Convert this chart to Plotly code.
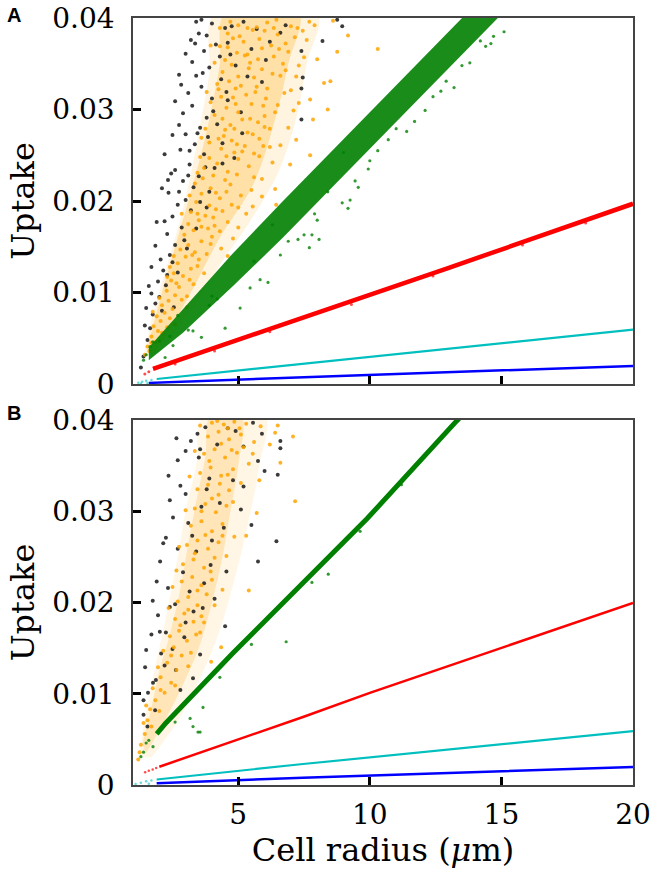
import plotly.graph_objects as go

# ---------------- axis ticks ----------------
X_TICKS = [5, 10, 15, 20]
X_TICK_TEXT = ["5", "10", "15", "20"]
Y_TICKS_MILLI = [0, 10, 20, 30, 40]
Y_TICK_TEXT = ["0", "0.01", "0.02", "0.03", "0.04"]

# All uptake values below are in units of 1e-3

# ---------------- Panel A ----------------
blue_a_x = [1.6, 7.5, 20.0]
blue_a_y = [0.12, 0.75, 1.98]
cyan_a_x = [1.9, 7.46, 20.0]
cyan_a_y = [0.55, 2.2, 5.95]
red_a_x = [1.76, 7.46, 13.0, 20.0]
red_a_y = [1.65, 7.2, 12.7, 19.7]
red_a_dots_x = [1.45, 1.6, 2.6, 4.1, 6.2, 9.3, 12.4, 15.8, 18.2]
red_a_dots_y = [1.1, 1.35, 2.2, 3.6, 5.7, 8.7, 11.8, 15.2, 17.6]
start_dots_a_x = [1.2, 1.35, 1.5, 1.7, 1.3, 1.55]
start_dots_a_y = [0.15, 0.25, 0.35, 0.45, 0.05, 0.1]

green_a_band_x = [1.6, 2.9, 4.8, 6.7, 8.6, 11.2, 15.0]
green_a_upper = [4.0, 8.2, 14.3, 20.0, 25.6, 33.2, 44.4]
green_a_lower = [2.6, 5.6, 10.7, 16.0, 21.6, 29.2, 40.4]
green_a_pts_x = [9.94, 9.44, 9.56, 9.25, 8.95, 9.17, 8.0, 8.07, 7.7, 7.8, 7.5, 11.7,
                 11.4, 10.3, 10.7, 12.7, 12.9, 13.5, 13.8, 14.7, 15.1, 14.2, 5.83,
                 6.13, 5.07, 4.5, 3.28, 2.52, 2.22, 7.27, 6.6, 5.45, 3.6, 1.4, 1.5,
                 1.65, 1.75, 2.0, 2.4, 3.9, 4.2, 6.9, 7.9, 10.0, 12.1, 13.2, 14.4,
                 3.1, 5.6, 8.4, 11.0, 12.4, 2.7, 4.0, 6.3, 9.0, 13.9, 14.6]
green_a_pts_y = [23.5, 22.2, 21.5, 20.1, 19.8, 19.2, 17.9, 15.8, 14.9, 16.3, 16.3,
                 28.7, 27.6, 25.5, 26.7, 32.0, 33.1, 34.8, 35.1, 38.0, 38.5, 37.5,
                 11.4, 11.1, 8.3, 6.1, 5.8, 4.2, 2.9, 15.8, 14.1, 10.5, 5.1, 2.6,
                 3.2, 4.1, 4.6, 4.7, 5.2, 8.6, 9.3, 15.6, 18.6, 24.4, 29.9, 32.4,
                 36.9, 5.9, 13.4, 21.0, 27.9, 31.4, 7.5, 9.6, 17.4, 25.3, 41.0, 37.2]

# extent of the whole orange/black cloud, and of its dense core
cloud_a_fill_x = [1.4, 1.8, 2.3, 2.8, 3.2, 3.6, 3.9, 4.1, 8.0, 7.6, 7.2, 6.5, 5.5,
                  4.3, 3.2, 2.0]
cloud_a_fill_y = [3.0, 8.0, 13.0, 18.0, 23.0, 29.0, 34.0, 40.5, 40.5, 35.0, 29.0,
                  23.0, 18.0, 13.0, 8.0, 3.5]
orange_a_fill_x = [1.6, 2.1, 2.7, 3.3, 3.75, 4.05, 4.3, 4.5, 7.3, 6.9, 6.5, 5.6,
                   4.3, 3.2, 2.2, 1.7]
orange_a_fill_y = [4.5, 10.0, 16.0, 22.0, 27.0, 31.0, 35.0, 40.5, 40.5, 35.0, 30.0,
                   22.0, 16.0, 10.0, 5.0, 3.0]

orange_a_x = [1.45, 1.55, 1.62, 1.70, 1.85, 1.78, 1.95, 2.05, 1.90, 2.20, 2.10, 2.35,
              2.50, 2.28, 2.60, 2.75, 2.45, 3.05, 2.55, 2.90, 3.20, 2.70, 3.00, 3.45,
              2.40, 2.80, 3.10, 3.35, 3.60, 2.95, 3.80, 3.30, 4.00, 3.10, 3.50, 3.75,
              3.20, 4.10, 4.40, 3.90, 3.40, 4.60, 3.60, 3.95, 4.30, 4.70, 3.35, 5.10,
              4.50, 5.50, 4.05, 3.70, 4.20, 4.60, 5.00, 3.55, 5.40, 4.85, 5.80, 4.35,
              3.90, 4.45, 4.95, 5.35, 3.75, 5.80, 6.20, 4.70, 5.15, 4.10, 4.55, 5.00,
              5.50, 6.00, 3.95, 6.50, 4.80, 5.30, 5.75, 4.25, 4.65, 5.10, 5.60, 6.10,
              6.60, 4.40, 5.90, 7.00, 4.50, 4.95, 5.45, 5.90, 6.35, 6.90, 4.30, 5.20,
              7.30, 4.60, 5.00, 5.55, 6.10, 6.50, 7.00, 7.45, 4.80, 5.80, 6.80, 7.70,
              7.90, 8.60, 9.17, 10.30, 8.76, 8.00, 8.50, 8.26, 7.73, 8.40, 7.84, 7.73,
              6.97, 7.20, 7.30, 6.44, 6.40, 5.30, 4.80, 4.60, 4.75, 5.35, 6.25, 5.65,
              4.40, 5.25, 4.15, 3.85, 3.25, 2.65, 6.70, 6.05, 5.55, 4.95, 4.25, 3.65,
              5.05, 6.45, 4.90, 3.45,
              5.90, 6.30, 6.60, 6.90, 7.10, 6.75, 7.20, 7.50, 7.60, 7.25, 6.20, 5.60,
              6.00, 6.40, 6.80, 6.55, 7.15, 5.75, 6.30, 5.95, 4.55, 5.15, 4.75, 5.45,
              4.85, 5.70, 5.00, 5.40, 6.00, 5.35, 4.70, 5.70, 6.35, 5.25, 4.60, 4.90,
              4.35, 4.50, 3.90, 4.75, 4.15, 3.60, 4.30, 3.95, 3.50, 3.15, 2.85, 2.40,
              2.10, 1.70, 2.30, 3.30, 3.70, 4.35, 5.00, 5.55, 5.90, 5.00, 4.55, 4.05,
              3.05, 2.60, 5.95, 5.60, 4.10, 4.30, 3.95, 4.20, 3.80, 3.60, 3.45, 3.15,
              2.85, 2.55, 2.30, 2.00, 1.75]
orange_a_y = [3.2, 4.1, 3.6, 5.2, 4.6, 6.3, 5.8, 6.9, 7.4, 7.8, 8.6, 9.1,
              8.2, 10.2, 9.7, 10.6, 11.3, 9.6, 12.1, 11.8, 12.6, 13.2, 13.9, 12.9,
              12.8, 14.7, 15.2, 14.4, 15.6, 16.3, 14.2, 16.8, 16.1, 17.5, 17.9, 18.4,
              18.8, 17.3, 18.9, 19.5, 19.9, 17.7, 20.8, 21.4, 20.3, 21.8, 21.9, 20.6,
              22.3, 21.2, 22.8, 23.6, 24.1, 23.2, 24.6, 24.8, 23.8, 25.3, 24.9, 25.7,
              26.4, 27.1, 26.2, 27.5, 27.9, 26.8, 27.9, 28.3, 28.9, 29.4, 30.2, 29.7,
              30.6, 29.3, 30.8, 30.5, 31.3, 31.6, 28.6, 32.2, 33.1, 32.6, 33.5, 32.3,
              33.7, 34.1, 34.4, 32.1, 35.4, 36.2, 35.1, 36.7, 35.8, 36.3, 36.9, 37.4,
              34.8, 38.3, 39.2, 38.7, 39.5, 38.2, 39.1, 38.6, 37.8, 37.7, 37.2, 39.6,
              39.2, 39.7, 38.1, 36.6, 36.3, 35.5, 33.1, 32.9, 31.1, 30.0, 28.9, 25.0,
              24.0, 26.7, 30.7, 19.6, 21.3, 18.6, 15.9, 14.0, 34.9, 36.0, 37.0, 31.9,
              29.0, 26.0, 20.9, 17.0, 14.1, 11.0, 35.0, 31.2, 27.3, 22.9, 26.8, 22.5,
              38.0, 39.8, 30.6, 18.6,
              22.4, 24.2, 26.1, 28.0, 29.9, 31.8, 33.6, 35.7, 37.6, 38.9, 25.9, 22.6,
              28.1, 29.7, 34.3, 36.6, 37.9, 35.5, 33.9, 30.4, 24.9, 25.4, 26.6, 29.0,
              27.9, 32.5, 33.6, 34.5, 38.6, 38.9, 39.6, 39.0, 38.9, 35.9, 36.8, 32.3,
              31.4, 27.8, 24.7, 19.6, 19.1, 17.2, 16.7, 15.3, 13.6, 11.4, 9.2, 7.2,
              5.6, 4.5, 6.2, 10.9, 12.1, 14.8, 17.1, 19.4, 20.5, 19.3, 21.0, 18.2,
              8.4, 6.5, 26.0, 25.2, 35.1, 38.9, 37.0, 32.8, 31.9, 26.9, 23.1, 20.6,
              18.6, 14.0, 11.7, 9.4, 7.9]

black_a_x = [1.30, 1.40, 1.55, 1.65, 1.75, 1.85, 2.00, 1.95, 2.15, 2.25, 2.40, 2.05,
             2.60, 2.30, 2.85, 2.50, 2.70, 3.00, 2.35, 2.90, 3.30, 2.60, 3.15, 3.50,
             2.80, 3.35, 3.70, 3.00, 3.55, 2.90, 3.25, 3.80, 4.20, 3.10, 3.60, 4.00,
             3.40, 3.90, 4.35, 3.25, 3.70, 4.15, 3.50, 4.00, 4.50, 3.20, 4.70, 4.60,
             4.90, 5.20, 5.50, 4.40, 4.10, 3.80, 3.40, 3.05, 2.70, 2.55, 5.10, 5.70,
             6.20, 4.85, 7.40, 7.45, 7.40, 7.40, 8.20, 8.76, 8.95, 6.80, 3.90, 2.20,
             2.45, 2.83, 3.36, 2.33, 1.70, 3.60, 4.30, 3.85, 2.75, 5.90,
             3.40, 3.00, 2.75, 2.60, 2.50, 2.20, 2.10, 1.90, 1.85, 1.70, 1.60, 1.50,
             1.45, 3.80, 4.60, 3.65, 4.05, 3.45, 3.15, 3.75, 3.10, 2.75, 3.20, 2.95,
             2.50, 2.30, 2.10, 4.55, 5.35, 4.40, 3.55, 4.75, 6.05, 6.60, 5.15]
black_a_y = [1.8, 3.0, 4.8, 6.1, 7.6, 8.8, 9.5, 11.2, 12.4, 10.8, 14.1, 13.6,
             15.2, 16.4, 17.1, 18.3, 19.6, 20.1, 20.9, 22.2, 21.5, 23.4, 24.0, 22.7,
             25.6, 26.2, 25.1, 27.3, 28.0, 29.6, 30.4, 29.1, 28.4, 31.8, 32.5, 31.2,
             33.7, 34.6, 33.3, 35.2, 36.4, 37.1, 38.3, 39.4, 38.9, 37.6, 36.0, 31.0,
             34.8, 39.6, 36.6, 26.3, 23.6, 19.3, 17.0, 14.8, 12.2, 8.4, 29.7, 38.8,
             37.4, 24.7, 36.4, 33.5, 32.3, 28.9, 37.5, 39.8, 39.1, 39.2, 21.0, 17.8,
             23.0, 32.7, 37.2, 22.3, 9.9, 39.8, 35.8, 27.0, 28.3, 33.0,
             39.6, 36.1, 33.8, 30.9, 27.2, 25.1, 21.4, 17.7, 15.1, 12.8, 10.7, 8.3,
             6.4, 38.1, 37.3, 34.0, 29.8, 27.4, 25.5, 23.7, 22.8, 21.0, 19.0, 15.7,
             13.3, 11.9, 8.0, 31.9, 33.6, 24.1, 19.9, 39.1, 35.4, 38.4, 27.4]

# ---------------- Panel B ----------------
blue_b_x = [1.9, 7.46, 20.0]
blue_b_y = [0.2, 0.8, 1.97]
cyan_b_x = [1.9, 7.46, 20.0]
cyan_b_y = [0.6, 2.3, 5.9]
red_b_x = [2.0, 7.46, 10.0, 20.0]
red_b_y = [2.0, 7.45, 10.1, 19.95]
red_b_dots_x = [1.46, 1.6, 1.75, 1.88]
red_b_dots_y = [1.4, 1.55, 1.7, 1.85]
start_dots_b_x = [1.1, 1.3, 1.5, 1.7, 1.6]
start_dots_b_y = [0.1, 0.25, 0.4, 0.5, 0.15]
green_b_x = [1.9, 2.25, 4.8, 6.82, 7.35, 9.9, 13.3, 13.6]
green_b_y = [5.6, 6.8, 14.46, 20.3, 21.8, 29.2, 39.9, 40.8]
green_b_pts_x = [8.42, 9.63, 7.8, 6.82, 3.66, 3.28, 3.55, 3.17, 1.76, 1.5, 1.3,
                 3.47, 1.4, 1.6, 2.6, 4.3, 5.5, 11.2]
green_b_pts_y = [23.1, 27.8, 22.2, 15.7, 8.5, 6.4, 5.8, 7.3, 4.2, 4.6, 3.1,
                 5.8, 3.6, 4.9, 6.9, 11.8, 15.4, 32.9]

cloud_b_fill_x = [1.2, 1.5, 1.85, 2.3, 2.7, 3.0, 3.4, 3.7, 6.0, 5.8, 5.4, 4.9,
                  4.3, 3.6, 2.7, 1.7]
cloud_b_fill_y = [3.0, 8.0, 13.0, 19.0, 25.0, 30.0, 35.0, 40.5, 40.5, 35.0, 29.0,
                  23.0, 17.0, 12.0, 7.0, 3.0]
orange_b_fill_x = [1.35, 1.7, 2.0, 2.4, 2.8, 3.1, 3.4, 3.75, 3.95, 5.1, 5.0, 4.7,
                   4.4, 4.0, 3.5, 2.9, 2.2, 1.5]
orange_b_fill_y = [4.5, 8.5, 12.5, 16.5, 21.5, 26.5, 31.0, 36.0, 40.5, 40.5, 35.0,
                   30.0, 25.0, 20.0, 15.0, 11.0, 7.0, 3.5]

orange_b_x = [1.25, 1.30, 1.45, 1.55, 1.70, 1.50, 1.85, 2.00, 1.75, 2.20, 2.05, 2.45,
              1.95, 2.30, 2.65, 2.15, 2.55, 2.85, 3.10, 2.40, 2.75, 3.05, 3.40, 2.60,
              2.95, 3.30, 3.60, 2.70, 3.10, 3.45, 3.80, 2.85, 3.25, 3.60, 4.00, 4.40,
              2.90, 3.30, 3.70, 4.10, 3.05, 3.45, 3.85, 4.25, 3.20, 3.60, 4.00, 4.40,
              4.85, 3.35, 3.75, 4.15, 4.55, 3.45, 3.85, 4.25, 4.65, 3.55, 3.95, 4.35,
              4.80, 3.70, 4.10, 4.50, 4.95, 5.40, 3.85, 4.25, 4.65, 5.10, 5.60, 4.00,
              4.45, 4.85, 5.30, 5.85, 6.40, 7.08, 7.16, 6.50, 6.60, 6.20, 5.70, 5.40,
              5.80, 3.97, 4.35, 2.35, 2.50, 2.75, 3.00, 3.15, 3.35, 3.55, 1.20,
              4.20, 4.60, 5.05, 4.35, 4.75, 5.20, 3.90, 4.60, 5.10, 4.00, 4.80, 3.60,
              4.40, 3.75, 3.35, 4.55, 3.95, 3.45, 3.10, 4.10, 2.80, 3.55, 2.45, 3.20,
              2.05, 2.60, 1.65, 1.40, 3.70, 2.65, 5.30, 5.55, 4.30]
orange_b_y = [3.6, 4.4, 5.6, 7.1, 6.4, 8.7, 9.3, 8.1, 10.6, 10.1, 11.8, 11.2,
              12.9, 13.4, 12.6, 14.7, 15.1, 14.2, 13.0, 16.3, 16.9, 15.8, 16.5, 18.2,
              18.8, 17.9, 18.5, 20.1, 20.6, 19.7, 20.9, 22.3, 22.8, 21.9, 22.5, 21.4,
              24.2, 24.7, 23.8, 24.9, 26.3, 26.8, 25.9, 26.6, 28.4, 28.9, 27.8, 28.6,
              27.2, 30.3, 30.8, 29.9, 30.6, 32.4, 32.9, 31.8, 32.3, 34.2, 34.8, 33.9,
              34.6, 36.3, 36.8, 35.9, 36.4, 35.2, 38.2, 38.7, 37.9, 38.4, 37.6, 39.7,
              39.5, 39.8, 39.6, 39.3, 38.6, 38.2, 31.1, 39.4, 35.3, 37.3, 29.8, 21.3,
              33.4, 13.5, 15.1, 19.4, 21.7, 26.1, 30.1, 33.8, 36.6, 39.4, 2.8,
              39.9, 39.1, 39.1, 37.4, 36.7, 37.0, 35.5, 34.0, 33.1, 31.4, 31.0, 30.0,
              27.3, 27.4, 25.4, 25.1, 23.4, 21.3, 19.2, 19.7, 17.5, 16.7, 14.2, 14.5,
              10.4, 10.9, 8.3, 6.8, 17.8, 23.5, 27.3, 36.3, 33.0]

black_b_x = [1.46, 1.57, 1.84, 1.76, 1.87, 1.95, 2.02, 2.25, 2.07, 2.63, 2.80, 3.28,
             4.50, 2.65, 3.20, 2.25, 2.03, 2.33, 2.80, 3.00, 2.52, 6.60, 6.60, 5.75,
             6.00, 6.50, 6.45, 5.75, 5.50, 1.55, 1.40, 2.40, 2.90, 3.40, 3.10, 3.60,
             3.90, 3.50, 4.20, 3.75, 4.60, 4.30, 4.00, 3.70, 3.30, 2.95, 4.80, 5.20,
             4.55, 3.55, 2.20, 3.15, 2.70, 5.10, 4.90, 3.45, 4.10, 2.60, 5.56,
             2.35, 2.70, 3.00, 2.40, 2.15, 1.90, 1.75, 1.70, 1.50, 3.55, 3.80, 4.45,
             3.95, 3.65, 3.00, 2.50, 5.90, 5.20, 1.40, 3.25]
black_b_y = [12.9, 10.1, 8.2, 11.2, 11.5, 18.6, 16.8, 16.7, 14.4, 12.6, 10.4, 11.7,
             17.4, 38.0, 37.7, 27.1, 24.5, 21.6, 32.8, 31.9, 29.3, 37.7, 36.9, 35.5,
             34.4, 34.0, 26.7, 24.5, 28.5, 6.4, 9.3, 19.5, 23.3, 25.6, 28.7, 30.5,
             33.6, 35.9, 37.3, 39.2, 39.1, 30.9, 26.8, 22.1, 19.0, 16.2, 33.4, 37.1,
             23.4, 14.3, 13.1, 21.2, 25.9, 30.2, 38.8, 38.5, 20.4, 19.8, 39.7,
             33.9, 35.6, 36.6, 31.2, 26.5, 22.3, 20.2, 16.5, 14.8, 36.8, 32.4, 28.2,
             24.1, 19.4, 17.8, 14.9, 38.5, 32.7, 7.7, 27.3]

# ---------------- colours ----------------
ORANGE = "rgba(255,165,0,0.85)"
BLACK = "rgba(25,25,25,0.85)"
GREEN = "#008000"
RED = "#ff0000"
CYAN = "#00bfbf"
BLUE = "#0000ff"


def m(vals):
    return [v / 1000.0 for v in vals]


fig = go.Figure()


def pts(x, y, color, size, ax):
    fig.add_trace(go.Scatter(x=x, y=m(y), mode="markers", xaxis=ax[0], yaxis=ax[1],
                             marker=dict(color=color, size=size, line=dict(width=0)),
                             hoverinfo="skip", showlegend=False))


def line(x, y, color, width, ax):
    fig.add_trace(go.Scatter(x=x, y=m(y), mode="lines", xaxis=ax[0], yaxis=ax[1],
                             line=dict(color=color, width=width),
                             hoverinfo="skip", showlegend=False))


def area(x, y, color, ax, shape="linear"):
    fig.add_trace(go.Scatter(x=x, y=m(y), mode="lines", fill="toself", fillcolor=color,
                             line=dict(width=0, shape=shape), xaxis=ax[0], yaxis=ax[1],
                             hoverinfo="skip", showlegend=False))


A = ("x", "y")
B = ("x2", "y2")

# Panel A
area(cloud_a_fill_x, cloud_a_fill_y, "rgba(255,165,0,0.12)", A, "spline")
area(orange_a_fill_x, orange_a_fill_y, "rgba(255,165,0,0.26)", A, "spline")
pts(black_a_x, black_a_y, BLACK, 4, A)
pts(orange_a_x, orange_a_y, ORANGE, 4, A)
area(green_a_band_x + green_a_band_x[::-1], green_a_upper + green_a_lower[::-1],
     "rgba(0,128,0,0.9)", A)
pts(green_a_pts_x, green_a_pts_y, "rgba(0,128,0,0.8)", 3.2, A)
line(red_a_x, red_a_y, RED, 4.5, A)
pts(red_a_dots_x, red_a_dots_y, "rgba(255,0,0,0.7)", 3, A)
line(cyan_a_x, cyan_a_y, CYAN, 2.2, A)
line(blue_a_x, blue_a_y, BLUE, 2.5, A)
pts(start_dots_a_x, start_dots_a_y, "rgba(0,191,191,0.6)", 2.5, A)

# Panel B
area(cloud_b_fill_x, cloud_b_fill_y, "rgba(255,165,0,0.10)", B, "spline")
area(orange_b_fill_x, orange_b_fill_y, "rgba(255,165,0,0.20)", B, "spline")
pts(black_b_x, black_b_y, BLACK, 4, B)
pts(orange_b_x, orange_b_y, ORANGE, 4, B)
line(green_b_x, green_b_y, GREEN, 5, B)
pts(green_b_pts_x, green_b_pts_y, "rgba(0,128,0,0.8)", 3.2, B)
line(red_b_x, red_b_y, RED, 2.5, B)
pts(red_b_dots_x, red_b_dots_y, "rgba(255,0,0,0.7)", 2.5, B)
line(cyan_b_x, cyan_b_y, CYAN, 2.2, B)
line(blue_b_x, blue_b_y, BLUE, 2.5, B)
pts(start_dots_b_x, start_dots_b_y, "rgba(0,191,191,0.6)", 2.5, B)

SERIF = "DejaVu Serif"
TICKFONT = dict(family=SERIF, size=28, color="black")
TITLEFONT = dict(family=SERIF, size=32, color="black")

xcommon = dict(range=[1, 20], tickvals=X_TICKS, ticktext=X_TICK_TEXT, ticks="inside",
               ticklen=8, tickwidth=3, tickcolor="black", showline=True,
               linecolor="#444", linewidth=1.5, mirror=True, showgrid=False,
               zeroline=False, tickfont=TICKFONT, automargin=False,
               ticklabelstandoff=4, ticklabeloverflow="allow")
ycommon = dict(range=[0, 0.04], tickvals=m(Y_TICKS_MILLI), ticktext=Y_TICK_TEXT,
               ticks="inside", ticklen=8, tickwidth=3, tickcolor="black",
               showline=True, linecolor="#444", linewidth=1.5, mirror=True,
               showgrid=False, zeroline=False, tickfont=TICKFONT, automargin=False,
               ticklabelstandoff=11, ticklabeloverflow="allow",
               title=dict(text="Uptake", font=TITLEFONT, standoff=8))

fig.update_layout(
    width=660, height=879,
    margin=dict(l=133, r=27, t=18, b=94),
    paper_bgcolor="white", plot_bgcolor="white",
    showlegend=False,
    xaxis=dict(xcommon, domain=[0, 1], anchor="y", showticklabels=False),
    yaxis=dict(ycommon, domain=[0.5228, 1], anchor="x"),
    xaxis2=dict(xcommon, domain=[0, 1], anchor="y2",
                title=dict(text="Cell radius (<i>\u03bc</i>m)", font=TITLEFONT,
                           standoff=6)),
    yaxis2=dict(ycommon, domain=[0, 0.4759], anchor="x2"),
    annotations=[
        dict(text="<b>A</b>", x=-0.256, y=1.0039, xref="paper", yref="paper",
             xanchor="left", yanchor="middle", showarrow=False,
             font=dict(family="Liberation Sans", size=20, color="black")),
        dict(text="<b>B</b>", x=-0.256, y=0.485, xref="paper", yref="paper",
             xanchor="left", yanchor="middle", showarrow=False,
             font=dict(family="Liberation Sans", size=20, color="black")),
    ],
)

# remove the default 8 px page margin so the 660x879 figure fills the window
fig.write_html("out.html", config={"displayModeBar": False},
               post_script="document.body.style.margin='0px';")
